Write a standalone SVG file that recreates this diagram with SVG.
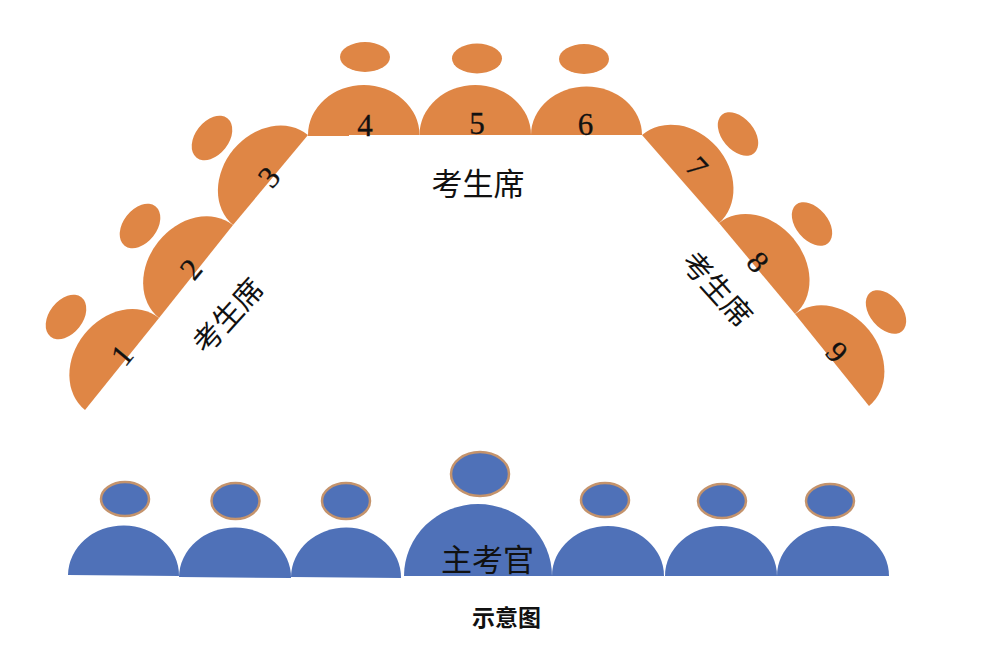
<svg xmlns="http://www.w3.org/2000/svg" width="987" height="649" viewBox="0 0 987 649">
<style>
.o{fill:#df8645}
.b{fill:#4f71b8}
.bh{fill:#4f71b8;stroke:#c4936c;stroke-width:2.500}
.t{font-family:"Liberation Serif","Noto Sans CJK SC",serif;fill:#111;text-anchor:middle}
.n{font-size:31px;stroke:#111;stroke-width:.3}
.c{font-size:31px}
.r{font-size:29.500px}
.m{font-family:"Liberation Sans","Noto Sans CJK SC",sans-serif;font-size:23px;font-weight:700;fill:#111;text-anchor:middle}
</style>
<rect width="987" height="649" fill="#fff"/>
<g id="seat-1"><path class="o" d="M85 410A59 48 -51 0 1 159 318Z"/><ellipse class="o" cx="66" cy="317" rx="25" ry="16.800" transform="rotate(-52 66 317)"/><text class="t n" transform="translate(122 355) rotate(-50)" y="10.500">1</text></g>
<g id="seat-2"><path class="o" d="M159 318A59 47.700 -51 0 1 233 225Z"/><ellipse class="o" cx="140" cy="226" rx="25" ry="16.800" transform="rotate(-52 140 226)"/><text class="t n" transform="translate(191 269) rotate(-50)" y="10.500">2</text></g>
<g id="seat-3"><path class="o" d="M233 225A58 47.500 -50 0 1 308 135Z"/><ellipse class="o" cx="212" cy="138" rx="25" ry="16.800" transform="rotate(-52 212 138)"/><text class="t n" transform="translate(269 177) rotate(-50)" y="10.500">3</text></g>
<g id="seat-4"><path class="o" d="M308 135A55.500 49.800 0 0 1 419.500 135H349V136H308Z"/><ellipse class="o" cx="365" cy="57" rx="25" ry="15"/><text class="t n" x="365" y="136">4</text></g>
<g id="seat-5"><path class="o" d="M419.500 135A55.500 49.800 0 0 1 531 135Z"/><ellipse class="o" cx="477" cy="58.500" rx="25" ry="15"/><text class="t n" x="477" y="134">5</text></g>
<g id="seat-6"><path class="o" d="M531 135A55.500 48.500 0 0 1 642 135Z"/><ellipse class="o" cx="584" cy="59" rx="25" ry="15"/><text class="t n" x="585.500" y="135">6</text></g>
<g id="seat-7"><path class="o" d="M642 135A58 48 49 0 1 719 223Z"/><ellipse class="o" cx="738" cy="134" rx="25" ry="16" transform="rotate(50 738 134)"/><text class="t n" transform="translate(697 167) rotate(48)" y="10.500">7</text></g>
<g id="seat-8"><path class="o" d="M719 223A59 47 50 0 1 795 314Z"/><ellipse class="o" cx="812" cy="224" rx="25" ry="16" transform="rotate(50 812 224)"/><text class="t n" transform="translate(758 262) rotate(48)" y="10.500">8</text></g>
<g id="seat-9"><path class="o" d="M795 314A59 47.500 51 0 1 869 406Z"/><ellipse class="o" cx="886" cy="312" rx="25" ry="16" transform="rotate(50 886 312)"/><text class="t n" transform="translate(837 352) rotate(48)" y="10.500">9</text></g>
<g id="label-left"><text class="t r" transform="translate(228 316) rotate(-48)" y="10.500">考生席</text></g>
<g id="label-top"><text class="t c" x="478" y="195">考生席</text></g>
<g id="label-right"><text class="t r" transform="translate(717 289) rotate(48)" y="10.500">考生席</text></g>
<g id="examiner-1"><path class="b" d="M68 575A55.500 50 0 0 1 179 576Z"/><ellipse class="bh" cx="125" cy="499" rx="24" ry="17"/></g>
<g id="examiner-2"><path class="b" d="M179 577A56 50 0 0 1 291 578Z"/><ellipse class="bh" cx="235.500" cy="501" rx="24" ry="18"/></g>
<g id="examiner-3"><path class="b" d="M291 577A55 50 0 0 1 401 578Z"/><ellipse class="bh" cx="346" cy="501" rx="24" ry="18"/></g>
<g id="chief"><path class="b" d="M404 576A74 72 0 0 1 552 576Z"/><ellipse class="bh" cx="480" cy="474" rx="29" ry="22"/><text class="t c" x="487.500" y="571">主考官</text></g>
<g id="examiner-5"><path class="b" d="M552 576A56 50 0 0 1 664 576Z"/><ellipse class="bh" cx="605" cy="500" rx="24" ry="17"/></g>
<g id="examiner-6"><path class="b" d="M665 576A56 50 0 0 1 777 576Z"/><ellipse class="bh" cx="722" cy="501" rx="24" ry="17"/></g>
<g id="examiner-7"><path class="b" d="M777 576A56 50 0 0 1 889 576Z"/><ellipse class="bh" cx="830" cy="501" rx="24" ry="17"/></g>
<g id="caption"><text class="m" x="506.500" y="626">示意图</text></g>
</svg>
